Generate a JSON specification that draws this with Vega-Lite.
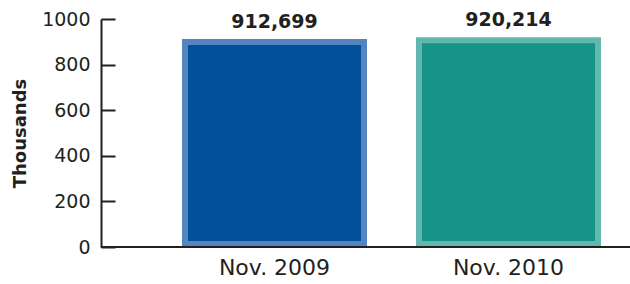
{
  "$schema": "https://vega.github.io/schema/vega-lite/v6.json",
  "width": 529,
  "height": 228,
  "autosize": "none",
  "padding": {"left": 101, "top": 19, "right": 0, "bottom": 37},
  "background": "white",
  "config": {"view": {"stroke": null}, "font": "DejaVu Sans"},
  "data": {"values": [
    {"month": "Nov. 2009", "value": 912.699, "label": "912,699"},
    {"month": "Nov. 2010", "value": 920.214, "label": "920,214"}
  ]},
  "layer": [
    {
      "mark": {"type": "bar", "stroke": null},
      "encoding": {
        "x": {"field": "month", "type": "nominal", "sort": null,
              "scale": {"range": [81, 500], "paddingInner": 0.2094, "paddingOuter": 0},
              "axis": {"title": null, "domain": false, "ticks": false, "labelAngle": 0, "labelFontSize": 22, "labelColor": "#231f20", "labelPadding": 10, "labelFont": "DejaVu Sans"}},
        "y": {"field": "value", "type": "quantitative",
              "scale": {"domain": [0, 1000]},
              "axis": {"title": "Thousands", "titleFontSize": 18, "titleFontWeight": "bold", "titleColor": "#231f20", "titlePadding": 12, "titleFont": "DejaVu Sans",
                       "values": [0, 200, 400, 600, 800, 1000], "format": "d", "grid": false,
                       "domainColor": "#231f20", "domainWidth": 2, "tickColor": "#231f20", "tickWidth": 2, "tickSize": -14,
                       "labelFontSize": 19, "labelColor": "#231f20", "labelPadding": 25, "labelFont": "DejaVu Sans"}},
        "color": {"field": "month", "type": "nominal", "legend": null,
                  "scale": {"domain": ["Nov. 2009", "Nov. 2010"], "range": ["#5585c0", "#62b8ae"]}}
      }
    },
    {
      "mark": {"type": "bar", "size": 173, "yOffset": 6, "y2Offset": -6},
      "encoding": {
        "x": {"field": "month", "type": "nominal", "sort": null},
        "y": {"field": "value", "type": "quantitative"},
        "y2": {"datum": 0},
        "color": {"field": "month", "type": "nominal", "legend": null,
                  "scale": {"domain": ["Nov. 2009", "Nov. 2010"], "range": ["#03509a", "#169488"]}}
      }
    },
    {
      "mark": {"type": "text", "baseline": "bottom", "dy": -7, "fontSize": 19, "fontWeight": "bold", "color": "#231f20", "font": "DejaVu Sans"},
      "encoding": {
        "x": {"field": "month", "type": "nominal", "sort": null},
        "y": {"field": "value", "type": "quantitative"},
        "text": {"field": "label"}
      }
    },
    {
      "mark": {"type": "rule", "color": "#231f20", "strokeWidth": 2},
      "encoding": {"y": {"datum": 0}}
    }
  ],
  "resolve": {"scale": {"color": "independent"}}
}
